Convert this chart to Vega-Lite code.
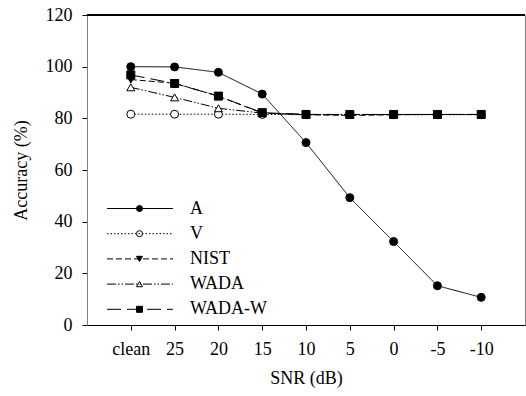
{
  "$schema": "https://vega.github.io/schema/vega-lite/v6.json",
  "width": 438,
  "height": 310,
  "autosize": {"type": "none"},
  "padding": {"left": 87, "top": 15, "right": 1, "bottom": 71},
  "background": "white",
  "config": {
    "font": "Liberation Serif",
    "view": {"stroke": "#808080", "strokeWidth": 1},
    "axis": {"labelFont": "Liberation Serif", "titleFont": "Liberation Serif", "labelFontSize": 18, "titleFontSize": 18, "titleFontWeight": "normal", "labelColor": "black", "titleColor": "black", "grid": false, "tickColor": "black", "tickSize": 5}
  },
  "data": {"values": [
    {"snr": "clean", "series": "A", "acc": 100},
    {"snr": "25", "series": "A", "acc": 99.9},
    {"snr": "20", "series": "A", "acc": 97.8},
    {"snr": "15", "series": "A", "acc": 89.4},
    {"snr": "10", "series": "A", "acc": 70.6},
    {"snr": "5", "series": "A", "acc": 49.3},
    {"snr": "0", "series": "A", "acc": 32.3},
    {"snr": "-5", "series": "A", "acc": 15.2},
    {"snr": "-10", "series": "A", "acc": 10.7},
    {"snr": "clean", "series": "V", "acc": 81.6},
    {"snr": "25", "series": "V", "acc": 81.6},
    {"snr": "20", "series": "V", "acc": 81.6},
    {"snr": "15", "series": "V", "acc": 81.5},
    {"snr": "10", "series": "V", "acc": 81.4},
    {"snr": "5", "series": "V", "acc": 81.4},
    {"snr": "0", "series": "V", "acc": 81.4},
    {"snr": "-5", "series": "V", "acc": 81.4},
    {"snr": "-10", "series": "V", "acc": 81.4},
    {"snr": "clean", "series": "NIST", "acc": 95},
    {"snr": "25", "series": "NIST", "acc": 93.6},
    {"snr": "20", "series": "NIST", "acc": 88.6},
    {"snr": "15", "series": "NIST", "acc": 82},
    {"snr": "10", "series": "NIST", "acc": 81.4},
    {"snr": "5", "series": "NIST", "acc": 81.1},
    {"snr": "0", "series": "NIST", "acc": 81.4},
    {"snr": "-5", "series": "NIST", "acc": 81.5},
    {"snr": "-10", "series": "NIST", "acc": 81.5},
    {"snr": "clean", "series": "WADA", "acc": 92},
    {"snr": "25", "series": "WADA", "acc": 88.1},
    {"snr": "20", "series": "WADA", "acc": 83.9},
    {"snr": "15", "series": "WADA", "acc": 82},
    {"snr": "10", "series": "WADA", "acc": 81.5},
    {"snr": "5", "series": "WADA", "acc": 81.5},
    {"snr": "0", "series": "WADA", "acc": 81.5},
    {"snr": "-5", "series": "WADA", "acc": 81.5},
    {"snr": "-10", "series": "WADA", "acc": 81.5},
    {"snr": "clean", "series": "WADA-W", "acc": 96.8},
    {"snr": "25", "series": "WADA-W", "acc": 93.5},
    {"snr": "20", "series": "WADA-W", "acc": 88.6},
    {"snr": "15", "series": "WADA-W", "acc": 82.2},
    {"snr": "10", "series": "WADA-W", "acc": 81.5},
    {"snr": "5", "series": "WADA-W", "acc": 81.5},
    {"snr": "0", "series": "WADA-W", "acc": 81.5},
    {"snr": "-5", "series": "WADA-W", "acc": 81.5},
    {"snr": "-10", "series": "WADA-W", "acc": 81.5}
  ]},
  "encoding": {
    "x": {"field": "snr", "type": "ordinal", "sort": ["clean", "25", "20", "15", "10", "5", "0", "-5", "-10"],
      "scale": {"type": "point", "padding": 1},
      "axis": {"title": "SNR (dB)", "labelAngle": 0, "domainColor": "black", "labelPadding": 10, "titlePadding": 11}},
    "y": {"field": "acc", "type": "quantitative", "scale": {"domain": [0, 120]},
      "axis": {"title": "Accuracy (%)", "values": [0, 20, 40, 60, 80, 100, 120], "domainColor": "#808080", "labelPadding": 10, "titlePadding": 15}}
  },
  "layer": [
    {
      "mark": {"type": "line", "color": "black", "strokeWidth": 1},
      "encoding": {
        "strokeDash": {"field": "series", "type": "nominal",
          "scale": {"domain": ["A", "V", "NIST", "WADA", "WADA-W"], "range": [[1, 0], [1.5, 2], [6, 3], [9, 2, 1.5, 2, 1.5, 2], [14, 6]]},
          "legend": {"title": null, "orient": "none", "legendX": 44, "legendY": 184.5, "symbolType": "M-11,0H11", "symbolSize": 36, "symbolStrokeColor": "black", "symbolStrokeWidth": 1, "labelFont": "Liberation Serif", "labelFontSize": 18, "labelColor": "black", "labelOffset": 41, "rowPadding": 7.2}}
      }
    },
    {
      "mark": {"type": "point", "filled": true, "strokeWidth": 1, "size": 64, "opacity": 1},
      "encoding": {
        "shape": {"field": "series", "type": "nominal",
          "scale": {"domain": ["A", "V", "NIST", "WADA", "WADA-W"], "range": ["circle", "circle", "triangle-down", "triangle-up", "square"]},
          "legend": {"title": null, "orient": "none", "legendX": 43.5, "legendY": 184.5, "symbolSize": 36, "symbolStrokeWidth": 1, "labelFont": "Liberation Serif", "labelFontSize": 18, "labelExpr": "''", "rowPadding": 7.2}},
        "fill": {"field": "series", "type": "nominal",
          "scale": {"domain": ["A", "V", "NIST", "WADA", "WADA-W"], "range": ["black", "white", "black", "white", "black"]},
          "legend": {"title": null, "orient": "none", "legendX": 43.5, "legendY": 184.5, "symbolSize": 36, "symbolStrokeWidth": 1, "labelFont": "Liberation Serif", "labelFontSize": 18, "labelExpr": "''", "rowPadding": 7.2}},
        "stroke": {"field": "series", "type": "nominal",
          "scale": {"domain": ["A", "V", "NIST", "WADA", "WADA-W"], "range": ["black", "black", "black", "black", "black"]},
          "legend": {"title": null, "orient": "none", "legendX": 43.5, "legendY": 184.5, "symbolSize": 36, "symbolStrokeWidth": 1, "labelFont": "Liberation Serif", "labelFontSize": 18, "labelExpr": "''", "rowPadding": 7.2}}
      }
    },
    {
      "mark": {"type": "rule", "color": "black", "strokeWidth": 1},
      "encoding": {"y": {"datum": 120}, "x": null}
    }
  ],
  "resolve": {"legend": {"strokeDash": "independent"}}
}
